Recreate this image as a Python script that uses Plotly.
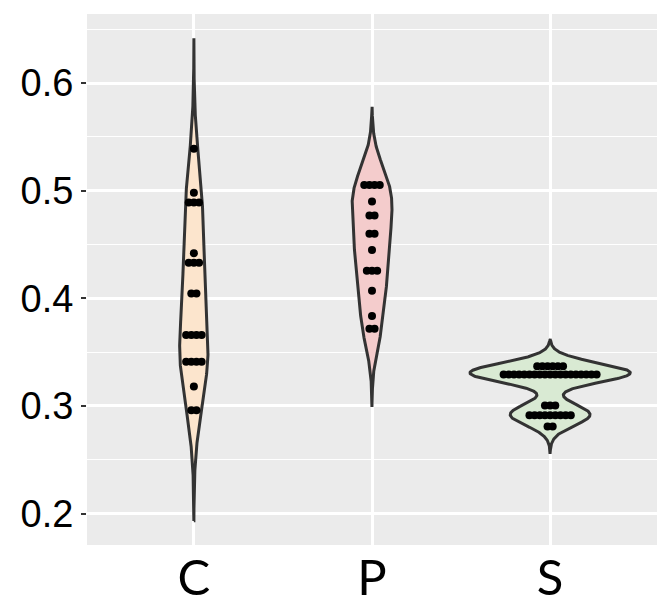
import numpy as np
import plotly.graph_objects as go

categories = ["C", "P", "S"]

c_values = [0.539, 0.498, 0.489, 0.442, 0.433, 0.4045, 0.366, 0.341, 0.318, 0.296]
c_counts = [1, 1, 3, 1, 3, 2, 4, 4, 1, 2]

p_values = [0.5054, 0.490, 0.477, 0.460, 0.445, 0.4257, 0.407, 0.3836, 0.3717]
p_counts = [4, 1, 2, 2, 1, 3, 1, 1, 2]

s_values = [0.3368, 0.3293, 0.3005, 0.2913, 0.281]
s_counts = [6, 19, 3, 9, 2]

fill_colors = ["#FCE5CD", "#F4CCCC", "#D9EAD3"]
y_tick_vals = [0.2, 0.3, 0.4, 0.5, 0.6]

groups = [(c_values, c_counts), (p_values, p_counts), (s_values, s_counts)]


def nrd0(x):
    sd = np.std(x, ddof=1)
    iqr = np.percentile(x, 75) - np.percentile(x, 25)
    lo = min(sd, iqr / 1.34) if iqr > 0 else sd
    return 0.9 * lo * len(x) ** (-0.2)


def kde(x):
    bw = nrd0(x)
    grid = np.linspace(x.min() - 3 * bw, x.max() + 3 * bw, 512)
    d = np.exp(-0.5 * ((grid[:, None] - x[None, :]) / bw) ** 2).sum(axis=1)
    d /= len(x) * bw * np.sqrt(2 * np.pi)
    return grid, d


kdes = []
for vals, cnts in groups:
    raw = np.repeat(np.array(vals), np.array(cnts))
    kdes.append(kde(raw))
max_d = max(d.max() for _, d in kdes)

fig = go.Figure()
dot_step = 0.029
for i, ((vals, cnts), (grid, d)) in enumerate(zip(groups, kdes)):
    pos = i + 1
    half = d / max_d * 0.45
    xs = np.concatenate([pos - half, (pos + half)[::-1], [pos - half[0]]])
    ys = np.concatenate([grid, grid[::-1], [grid[0]]])
    fig.add_trace(go.Scatter(x=xs, y=ys, mode="lines", fill="toself",
                             fillcolor=fill_colors[i],
                             line=dict(color="#333333", width=3),
                             hoverinfo="skip"))
    dx, dy = [], []
    for v, n in zip(vals, cnts):
        for k in range(n):
            dx.append(pos + (k - (n - 1) / 2) * dot_step)
            dy.append(v)
    fig.add_trace(go.Scatter(x=dx, y=dy, mode="markers",
                             marker=dict(color="black", size=8,
                                         line=dict(width=0))))

all_lo = min(g.min() for g, _ in kdes)
all_hi = max(g.max() for g, _ in kdes)
pad = (all_hi - all_lo) * 0.05

fig.update_layout(
    width=657, height=605,
    margin=dict(l=87, r=0, t=14, b=60),
    paper_bgcolor="white", plot_bgcolor="#EBEBEB",
    showlegend=False,
    xaxis=dict(range=[0.4, 3.6], tickvals=[1, 2, 3], ticktext=categories,
               showgrid=True, gridcolor="white", gridwidth=2.8,
               zeroline=False, ticks="", ticklabelstandoff=0,
               automargin=False,
               tickfont=dict(family="Lato", size=49, color="black")),
    yaxis=dict(range=[all_lo - pad, all_hi + pad], tickvals=y_tick_vals,
               tickformat=".1f", automargin=False,
               showgrid=True, gridcolor="white", gridwidth=2.8,
               minor=dict(dtick=0.05, tick0=0.15, showgrid=True,
                          gridcolor="white", gridwidth=1.4),
               zeroline=False, ticks="outside", ticklen=5, tickwidth=2,
               tickcolor="#333333",
               tickfont=dict(family="Liberation Sans", size=38, color="black")),
)

fig.write_html("out.html")
